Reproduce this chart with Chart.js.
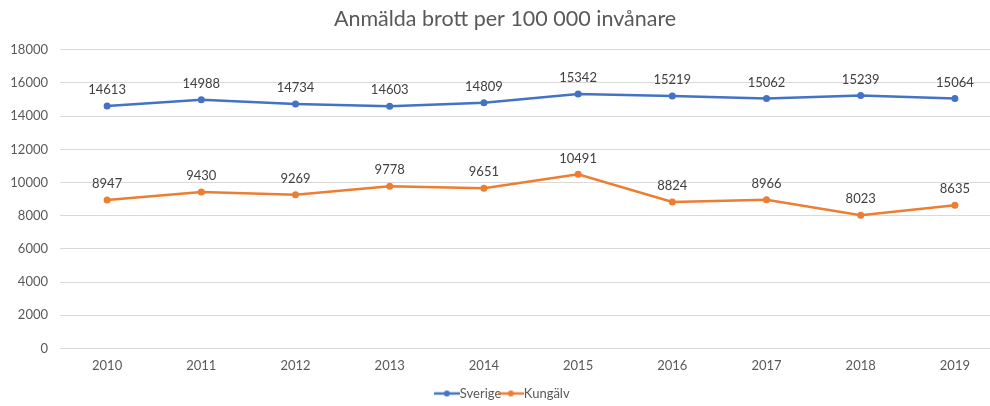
<!DOCTYPE html>
<html>
<head>
<meta charset="utf-8">
<script src="https://cdn.jsdelivr.net/npm/chart.js@4.4.1/dist/chart.umd.min.js"></script>
<style>
  html, body { margin: 0; padding: 0; background: #fff; overflow: hidden; }
  #clip { width: 990px; height: 406px; overflow: hidden; }
  #wrap { width: 1022px; height: 406px; }
</style>
</head>
<body>
<div id="clip"><div id="wrap"><canvas id="myChart"></canvas></div></div>
<script>
(() => {
    'use strict'

    const years = ['2010', '2011', '2012', '2013', '2014', '2015', '2016', '2017', '2018', '2019']
    const sverige = [14613, 14988, 14734, 14603, 14809, 15342, 15219, 15062, 15239, 15064]
    const kungalv = [8947, 9430, 9269, 9778, 9651, 10491, 8824, 8966, 8023, 8635]

    const fontFamily = 'Lato, "Open Sans", sans-serif'

    // legend marker: short line with a dot in the middle
    const legendMarker = (color) => {
        const c = document.createElement('canvas')
        c.width = 26
        c.height = 8
        const g = c.getContext('2d')
        g.strokeStyle = color
        g.lineWidth = 2.5
        g.beginPath()
        g.moveTo(0, 4)
        g.lineTo(26, 4)
        g.stroke()
        g.fillStyle = color
        g.beginPath()
        g.arc(13, 4, 3, 0, Math.PI * 2)
        g.fill()
        return c
    }

    // draws the value above every point
    const valueLabels = {
        id: 'valueLabels',
        afterDatasetsDraw(chart) {
            const ctx = chart.ctx
            ctx.save()
            ctx.font = '13px ' + fontFamily
            ctx.fillStyle = '#404040'
            ctx.textAlign = 'center'
            ctx.textBaseline = 'middle'
            chart.data.datasets.forEach((ds, i) => {
                chart.getDatasetMeta(i).data.forEach((pt, j) => {
                    ctx.fillText(String(ds.data[j]), pt.x, pt.y - 16)
                })
            })
            ctx.restore()
        }
    }

    const ctx = document.getElementById('myChart')
    // eslint-disable-next-line no-unused-vars
    const myChart = new Chart(ctx, {
        type: 'line',
        data: {
            labels: years,
            datasets: [{
                label: 'Sverige',
                data: sverige,
                borderColor: '#4472C4',
                backgroundColor: '#4472C4',
                borderWidth: 2.5,
                pointRadius: 3.5,
                pointBackgroundColor: '#4472C4',
                pointBorderWidth: 0,
                lineTension: 0
            }, {
                label: 'Kungälv',
                data: kungalv,
                borderColor: '#ED7D31',
                backgroundColor: '#ED7D31',
                borderWidth: 2.5,
                pointRadius: 3.5,
                pointBackgroundColor: '#ED7D31',
                pointBorderWidth: 0,
                lineTension: 0
            }]
        },
        options: {
            responsive: true,
            maintainAspectRatio: false,
            animation: false,
            layout: {
                padding: { top: 2, right: 20, left: 8, bottom: -4 }
            },
            scales: {
                x: {
                    offset: true,
                    grid: { display: false, drawTicks: false },
                    border: { display: false },
                    ticks: {
                        color: '#595959',
                        font: { family: fontFamily, size: 13 },
                        padding: 10
                    }
                },
                y: {
                    min: 0,
                    max: 18000,
                    grid: { color: '#D9D9D9', drawTicks: false, lineWidth: 1 },
                    border: { display: false },
                    afterFit(scale) { scale.width = 52 },
                    ticks: {
                        stepSize: 2000,
                        color: '#595959',
                        font: { family: fontFamily, size: 13 },
                        padding: 12,
                        callback: (v) => String(v)
                    }
                }
            },
            plugins: {
                title: {
                    display: true,
                    text: 'Anmälda brott per 100 000 invånare',
                    color: '#595959',
                    font: { family: fontFamily, size: 21.5, weight: 'normal' },
                    padding: { top: 4, bottom: 18 }
                },
                legend: {
                    position: 'bottom',
                    labels: {
                        color: '#595959',
                        font: { family: fontFamily, size: 13 },
                        usePointStyle: true,
                        boxWidth: 26,
                        boxHeight: 8,
                        padding: 3,
                        generateLabels(chart) {
                            return chart.data.datasets.map((ds, i) => ({
                                text: ds.label,
                                fontColor: '#595959',
                                pointStyle: legendMarker(ds.borderColor),
                                strokeStyle: ds.borderColor,
                                fillStyle: ds.borderColor,
                                lineWidth: 0,
                                hidden: false,
                                datasetIndex: i
                            }))
                        }
                    }
                },
                tooltip: { enabled: false }
            }
        },
        plugins: [valueLabels]
    })
})()
</script>
</body>
</html>
